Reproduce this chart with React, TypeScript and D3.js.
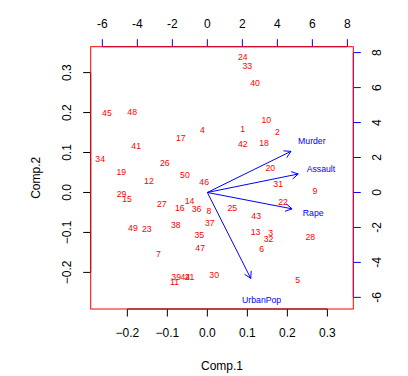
import React from "react";
import * as d3 from "d3";

// Observation labels (state index) and their scores on Comp.1 / Comp.2
const labels = Array.from({ length: 50 }, (_, i) => String(i + 1));
const comp1 = [
  0.0885, 0.175, 0.1585, -0.0125, 0.226, 0.136, -0.1225, 0.004, 0.269, 0.1475,
  -0.082, -0.146, 0.1205, -0.0445, -0.2008, -0.069, -0.0665, 0.1418, -0.215, 0.1575,
  -0.0445, 0.189, -0.1515, 0.0885, 0.0625, -0.1065, -0.114, 0.2575, -0.2145, 0.017,
  0.177, 0.153, 0.1, -0.268, -0.02, -0.027, 0.006, -0.079, -0.078, 0.119,
  -0.178, 0.0885, 0.122, -0.055, -0.251, -0.008, -0.018, -0.188, -0.186, -0.056,
];
const comp2 = [
  0.16, 0.151, -0.1025, 0.1575, -0.219, -0.1405, -0.155, -0.0455, 0.004, 0.181,
  -0.225, 0.028, -0.098, -0.021, -0.0155, -0.038, 0.136, 0.124, 0.0525, 0.0615,
  -0.212, -0.0235, -0.091, 0.339, -0.0385, 0.074, -0.0275, -0.111, -0.003, -0.2075,
  0.021, -0.117, 0.316, 0.085, -0.106, -0.0405, -0.0768, -0.0818, -0.212, 0.274,
  0.116, 0.121, -0.059, -0.212, 0.199, 0.0275, -0.139, 0.201, -0.0885, 0.044,
];

// Variable loadings (top/right axis units)
const variables = ["Murder", "Assault", "UrbanPop", "Rape"];
const load1 = [5.97, 6.49, 3.1, 6.05];
const load2 = [2.94, 1.32, -6.14, -1.17];

const scoreTicks = [-0.2, -0.1, 0.0, 0.1, 0.2, 0.3];
const loadTicks = [-6, -4, -2, 0, 2, 4, 6, 8];

const W = 408;
const H = 376;
const L = 90.7, R = 353.3, T = 46.7, B = 309;

export default function App() {
  const sDom: [number, number] = [-0.2916, 0.3648];
  const x = d3.scaleLinear().domain(sDom).range([L, R]);
  const y = d3.scaleLinear().domain(sDom).range([B, T]);
  const lDom: [number, number] = [-0.2916 * 22.857, 0.3648 * 22.857];
  const x2 = d3.scaleLinear().domain(lDom).range([L, R]);
  const y2 = d3.scaleLinear().domain(lDom).range([B, T]);

  const font = "'Liberation Sans', Arial, Helvetica, sans-serif";
  const tk = 7.5;
  const ptFont = 8.7;

  const arrowHead = (x0: number, y0: number, x1: number, y1: number) => {
    const ang = Math.atan2(y1 - y0, x1 - x0);
    const len = 7.5;
    const a = Math.PI / 6;
    const p1 = [x1 - len * Math.cos(ang - a), y1 - len * Math.sin(ang - a)];
    const p2 = [x1 - len * Math.cos(ang + a), y1 - len * Math.sin(ang + a)];
    return `M${p1[0]},${p1[1]}L${x1},${y1}L${p2[0]},${p2[1]}`;
  };

  return (
    <svg
      width={W}
      height={H}
      style={{ position: "absolute", left: 0, top: 0, background: "white" }}
      fontFamily={font}
    >
      <rect x={0} y={0} width={W} height={H} fill="white" />

      {/* bottom axis */}
      {scoreTicks.map((t) => (
        <g key={"b" + t}>
          <line x1={x(t)} x2={x(t)} y1={B} y2={B + tk} stroke="#000" strokeWidth={1} />
          <text x={x(t)} y={333} dy="0.35em" textAnchor="middle" fontSize={12}>
            {d3.format(".1f")(t)}
          </text>
        </g>
      ))}
      <line x1={x(-0.2)} x2={x(0.3)} y1={B} y2={B} stroke="#000" />

      {/* left axis */}
      {scoreTicks.map((t) => (
        <g key={"l" + t}>
          <line x1={L - tk} x2={L} y1={y(t)} y2={y(t)} stroke="#000" strokeWidth={1} />
          <text
            transform={`translate(66.7,${y(t)}) rotate(-90)`}
            dy="0.35em"
            textAnchor="middle"
            fontSize={12}
          >
            {d3.format(".1f")(t)}
          </text>
        </g>
      ))}
      <line x1={L} x2={L} y1={y(-0.2)} y2={y(0.3)} stroke="#000" />

      {/* top axis (loadings) */}
      <line x1={x2(-6)} x2={x2(8)} y1={T} y2={T} stroke="blue" />
      {loadTicks.map((t) => (
        <g key={"t" + t}>
          <line x1={x2(t)} x2={x2(t)} y1={T - tk} y2={T} stroke="blue" strokeWidth={1} />
          <text x={x2(t)} y={24} dy="0.35em" textAnchor="middle" fontSize={12}>
            {t}
          </text>
        </g>
      ))}

      {/* right axis (loadings) */}
      <line x1={R} x2={R} y1={y2(-6)} y2={y2(8)} stroke="blue" />
      {loadTicks.map((t) => (
        <g key={"r" + t}>
          <line x1={R} x2={R + tk} y1={y2(t)} y2={y2(t)} stroke="blue" strokeWidth={1} />
          <text
            transform={`translate(377,${y2(t)}) rotate(-90)`}
            dy="0.35em"
            textAnchor="middle"
            fontSize={12}
          >
            {t}
          </text>
        </g>
      ))}

      {/* box */}
      <rect x={L} y={T} width={R - L} height={B - T} fill="none" stroke="red" strokeWidth={1} />

      {/* axis titles */}
      <text x={(L + R) / 2} y={366} dy="0.35em" textAnchor="middle" fontSize={12}>
        Comp.1
      </text>
      <text
        transform={`translate(36,${(T + B) / 2}) rotate(-90)`}
        dy="0.35em"
        textAnchor="middle"
        fontSize={12}
      >
        Comp.2
      </text>

      {/* observation labels */}
      {labels.map((lab, i) => (
        <text
          key={"p" + lab}
          x={x(comp1[i])}
          y={y(comp2[i])}
          dy="0.35em"
          textAnchor="middle"
          fontSize={ptFont}
          fill="red"
        >
          {lab}
        </text>
      ))}

      {/* variable arrows */}
      {variables.map((v, i) => {
        const x0 = x2(0), y0 = y2(0);
        const x1 = x2(load1[i] * 0.8), y1 = y2(load2[i] * 0.8);
        return (
          <g key={"v" + v}>
            <line x1={x0} y1={y0} x2={x1} y2={y1} stroke="blue" strokeWidth={1} />
            <path d={arrowHead(x0, y0, x1, y1)} fill="none" stroke="blue" strokeWidth={1} />
            <text
              x={x2(load1[i])}
              y={y2(load2[i])}
              dy="0.35em"
              textAnchor="middle"
              fontSize={ptFont}
              fill="blue"
            >
              {v}
            </text>
          </g>
        );
      })}
    </svg>
  );
}
